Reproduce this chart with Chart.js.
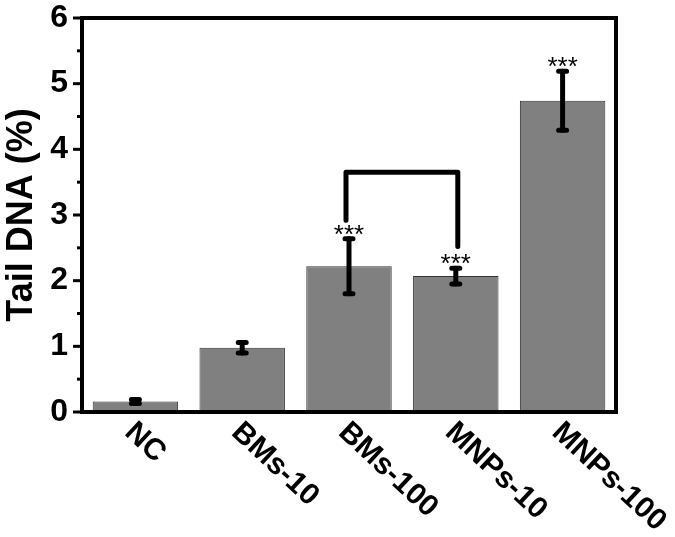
<!DOCTYPE html>
<html>
<head>
<meta charset="utf-8">
<script src="https://cdn.jsdelivr.net/npm/chart.js@4"></script>
<style>
  body { margin: 0; background: #fff; }
  #wrap { width: 675px; height: 537px; }
</style>
</head>
<body>
<div id="wrap"><canvas id="myChart" width="675" height="537"></canvas></div>
<script>
const groups   = ['NC', 'BMs-10', 'BMs-100', 'MNPs-10', 'MNPs-100'];
const tailDNA  = [0.16, 0.98, 2.22, 2.07, 4.74];
const errors   = [0.03, 0.08, 0.42, 0.12, 0.45];
const stars    = ['', '', '***', '***', '***'];
const yTicks   = [0, 1, 2, 3, 4, 5, 6];

// bracket between BMs-100 and MNPs-10
const bracketFrom = 2;
const bracketTo   = 3;
const bracketTop  = 3.65;
const bracketEnds = [2.92, 2.52];

const FONT = "'Liberation Sans', Arial, sans-serif";

const decorations = {
  id: 'decorations',
  afterDatasetsDraw(chart) {
    const c = chart.ctx;
    const area = chart.chartArea;
    const x = chart.scales.x;
    const y = chart.scales.y;

    // error bars
    c.save();
    c.strokeStyle = '#000';
    c.lineCap = 'round';
    for (let i = 0; i < groups.length; i++) {
      const px = x.getPixelForValue(i);
      const top = y.getPixelForValue(tailDNA[i] + errors[i]);
      const bot = y.getPixelForValue(tailDNA[i] - errors[i]);
      c.lineWidth = 5;
      c.beginPath();
      c.moveTo(px, top);
      c.lineTo(px, bot);
      c.stroke();
      c.beginPath();
      c.moveTo(px - 4, top); c.lineTo(px + 4, top);
      c.moveTo(px - 4, bot); c.lineTo(px + 4, bot);
      c.stroke();
      if (stars[i]) {
        c.fillStyle = '#000';
        c.font = '26px ' + FONT;
        c.textAlign = 'center';
        c.textBaseline = 'alphabetic';
        c.fillText(stars[i], px, top + 4);
      }
    }

    // bracket
    const bx1 = x.getPixelForValue(bracketFrom) - 3;
    const bx2 = x.getPixelForValue(bracketTo) + 2;
    c.lineWidth = 5;
    c.lineJoin = 'round';
    c.beginPath();
    c.moveTo(bx1, y.getPixelForValue(bracketEnds[0]));
    c.lineTo(bx1, y.getPixelForValue(bracketTop));
    c.lineTo(bx2, y.getPixelForValue(bracketTop));
    c.lineTo(bx2, y.getPixelForValue(bracketEnds[1]));
    c.stroke();
    c.restore();

    // frame and y ticks
    c.save();
    c.strokeStyle = '#000';
    c.lineWidth = 4;
    c.strokeRect(area.left, area.top, area.right - area.left, area.bottom - area.top);
    c.lineWidth = 3;
    for (let v = 0; v <= 6; v += 0.5) {
      const py = y.getPixelForValue(v);
      const len = Number.isInteger(v) ? 9 : 5;
      c.beginPath();
      c.moveTo(area.left, py);
      c.lineTo(area.left - len, py);
      c.stroke();
    }

    // slanted category labels
    c.fillStyle = '#000';
    c.font = 'bold 30px ' + FONT;
    c.textAlign = 'left';
    c.textBaseline = 'top';
    for (let i = 0; i < groups.length; i++) {
      const px = x.getPixelForValue(i);
      c.save();
      c.translate(px + 4, 417);
      c.rotate(43 * Math.PI / 180);
      c.fillText(groups[i], 0, 0);
      c.restore();
    }
    c.restore();
  }
};

const ctx = document.getElementById('myChart');
new Chart(ctx, {
  type: 'bar',
  data: {
    labels: groups,
    datasets: [{
      data: tailDNA,
      backgroundColor: '#808080',
      borderColor: '#333',
      borderWidth: 1,
      borderSkipped: false,
      categoryPercentage: 0.8,
      barPercentage: 1.0
    }]
  },
  options: {
    responsive: false,
    animation: false,
    layout: { padding: { top: 0, right: 59, left: 0, bottom: 0 } },
    plugins: {
      legend: { display: false },
      tooltip: { enabled: false }
    },
    scales: {
      x: {
        grid: { display: false },
        border: { display: false },
        ticks: { display: false },
        afterFit(scale) { scale.height = 125; }
      },
      y: {
        min: 0,
        max: 6,
        grid: { display: false, drawTicks: false },
        border: { display: false },
        afterBuildTicks(scale) { scale.ticks = yTicks.map(v => ({ value: v })); },
        ticks: {
          padding: 14,
          color: '#000',
          font: { family: FONT, size: 32, weight: 'bold' }
        },
        title: {
          display: true,
          text: 'Tail DNA (%)',
          color: '#000',
          font: { family: FONT, size: 36, weight: 'bold' },
          padding: { top: 0, bottom: 0 }
        },
        afterFit(scale) {
          scale.width = 82;
          scale.paddingTop = 18;
          scale.paddingBottom = 0;
        }
      }
    }
  },
  plugins: [decorations]
});
</script>
</body>
</html>
